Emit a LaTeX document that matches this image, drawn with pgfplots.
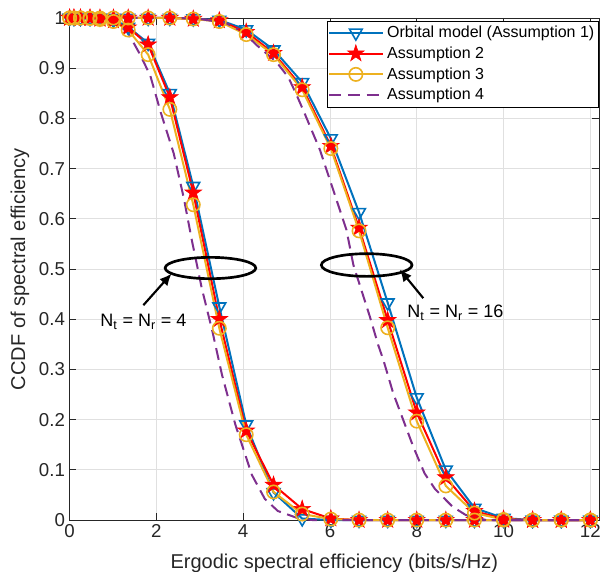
\documentclass[border=0pt]{standalone}
\usepackage{fontspec}
\setmainfont{Liberation Sans}
\usepackage{pgfplots}
\usepackage{pgfplotstable}
\pgfplotsset{compat=1.18}
\usetikzlibrary{arrows.meta}

\definecolor{orbblue}{HTML}{0072BD}
\definecolor{asred}{HTML}{FF0000}
\definecolor{asyellow}{HTML}{EDB120}
\definecolor{aspurple}{HTML}{7E2F8E}
\definecolor{axgray}{HTML}{262626}
\definecolor{gridgray}{HTML}{E0E0E0}

% filled five-pointed star (MATLAB pentagram)
\pgfdeclareplotmark{pentagram}{%
  \pgfpathmoveto{\pgfpointpolar{90}{\pgfplotmarksize}}%
  \pgfpathlineto{\pgfpointpolar{126}{0.382\pgfplotmarksize}}%
  \pgfpathlineto{\pgfpointpolar{162}{\pgfplotmarksize}}%
  \pgfpathlineto{\pgfpointpolar{198}{0.382\pgfplotmarksize}}%
  \pgfpathlineto{\pgfpointpolar{234}{\pgfplotmarksize}}%
  \pgfpathlineto{\pgfpointpolar{270}{0.382\pgfplotmarksize}}%
  \pgfpathlineto{\pgfpointpolar{306}{\pgfplotmarksize}}%
  \pgfpathlineto{\pgfpointpolar{342}{0.382\pgfplotmarksize}}%
  \pgfpathlineto{\pgfpointpolar{18}{\pgfplotmarksize}}%
  \pgfpathlineto{\pgfpointpolar{54}{0.382\pgfplotmarksize}}%
  \pgfpathclose
  \pgfusepathqfillstroke}

% marker curves: a = orbital model, b = assumption 2, c = assumption 3
\pgfplotstableread{
x     a4     b4     c4     a16    b16    c16
0     1      1      1      1      1      1
0.1   1      1      1      1      1      1
0.25  1      1      1      1      1      1
0.47  1      1      0.999  1      1      1
0.70  0.999  0.998  0.997  1      1      1
1.01  0.996  0.995  0.993  1      1      1
1.35  0.982  0.981  0.976  1      1      1
1.81  0.950  0.947  0.927  1      1      1
2.31  0.850  0.842  0.818  1      1      1
2.85  0.665  0.652  0.628  0.999  0.998  0.998
3.45  0.425  0.400  0.382  0.996  0.995  0.993
4.07  0.190  0.178  0.170  0.977  0.972  0.967
4.70  0.055  0.070  0.056  0.937  0.930  0.927
5.36  0.003  0.022  0.012  0.872  0.862  0.857
6.02  0      0.003  0.002  0.760  0.745  0.740
6.67  0      0      0      0.613  0.582  0.576
7.33  0      0      0      0.433  0.398  0.383
8.00  0      0      0      0.244  0.214  0.197
8.67  0      0      0      0.100  0.085  0.068
9.33  0      0      0      0.024  0.018  0.014
10.00 0      0      0      0.004  0.002  0.001
10.67 0      0      0      0      0      0
11.33 0      0      0      0      0      0
12.00 0      0      0      0      0      0
}\markdata

\begin{document}
\begin{tikzpicture}
\begin{axis}[
    name=ax,
    width=397pt, height=376.5pt, scale only axis,
    xmin=0, xmax=12.2, ymin=0, ymax=1,
    clip=false,
    xtick={0,2,4,6,8,10,12},
    ytick={0,0.1,0.2,0.3,0.4,0.5,0.6,0.7,0.8,0.9,1},
    yticklabels={0,0.1,0.2,0.3,0.4,0.5,0.6,0.7,0.8,0.9,1},
    xticklabels={0,2,4,6,8,10,12},
    tick align=inside, tick pos=both,
    major tick length=5pt,
    every tick/.style={axgray, line width=0.6pt},
    axis line style={axgray, line width=0.6pt},
    grid=major,
    grid style={gridgray, line width=0.7pt},
    tick label style={font=\fontsize{14}{16}\selectfont, text=axgray},
    /pgf/number format/assume math mode=true,
    xlabel={Ergodic spectral efficiency (bits/s/Hz)},
    ylabel={CCDF of spectral efficiency},
    every axis x label/.style={at={(axis description cs:0.5,-0.086)}, anchor=center,
        font=\fontsize{15}{17}\selectfont, text=axgray},
    every axis y label/.style={at={(axis description cs:-0.094,0.5)}, rotate=90, anchor=center,
        font=\fontsize{15}{17}\selectfont, text=axgray},
    legend style={at={(1,1)}, anchor=north east, yshift=-2pt, draw=black,
        line width=0.6pt, fill=white, font=\fontsize{12}{14}\selectfont,
        cells={anchor=west}, inner xsep=0.5pt, inner ysep=1pt,
        nodes={inner sep=2.7pt}},
    legend image code/.code={%
        \draw[mark repeat=2,mark phase=2,#1] plot coordinates {(0pt,0pt) (20pt,0pt) (40pt,0pt)};},
    orb/.style={orbblue, line width=1.5pt, mark=triangle, mark size=5.5pt,
        mark options={solid, rotate=180, line width=1.2pt}},
    as2/.style={asred, line width=1.5pt, mark=pentagram, mark size=6.5pt,
        mark options={solid, fill=asred, line width=0.5pt}},
    as3/.style={asyellow, line width=1.5pt, mark=o, mark size=5pt,
        mark options={solid, line width=1.2pt}},
    as4/.style={aspurple, line width=1.5pt, dash pattern=on 9pt off 5pt},
]
\addplot[orb, forget plot] table[x=x, y=a4] {\markdata};
\addplot[orb] table[x=x, y=a16] {\markdata};
\addlegendentry{Orbital model (Assumption 1)}
\addplot[as2, forget plot] table[x=x, y=b4] {\markdata};
\addplot[as2] table[x=x, y=b16] {\markdata};
\addlegendentry{Assumption 2}
\addplot[as3, forget plot] table[x=x, y=c4] {\markdata};
\addplot[as3] table[x=x, y=c16] {\markdata};
\addlegendentry{Assumption 3}
% Assumption 4, Nt = Nr = 4
\addplot[as4, forget plot] coordinates {
    (0,1) (0.5,1) (1.0,0.996) (1.35,0.97) (1.62,0.928) (1.86,0.885) (2.1,0.812)
    (2.4,0.73) (2.63,0.642) (2.82,0.556) (3.05,0.46) (3.28,0.38) (3.51,0.29)
    (3.82,0.19) (4.2,0.09) (4.5,0.042) (4.8,0.018) (5.25,0.004) (5.6,0) (12,0)
};
% Assumption 4, Nt = Nr = 16
\addplot[as4] coordinates {
    (0,1) (2.5,1) (3.0,0.998) (3.6,0.99) (4.0,0.972) (4.31,0.946) (4.77,0.912)
    (5.04,0.882) (5.23,0.847) (5.43,0.807) (5.77,0.737) (6.0,0.677) (6.38,0.578)
    (6.54,0.508) (6.92,0.405) (7.11,0.349) (7.23,0.319) (7.46,0.252) (7.69,0.199)
    (7.92,0.146) (8.18,0.093) (8.42,0.062) (8.82,0.027) (9.13,0.01) (9.6,0) (12,0)
};
\addlegendentry{Assumption 4}

% annotations
\draw[black, line width=2pt] (axis cs:3.246,0.502) ellipse [x radius=34pt, y radius=8pt];
\draw[black, line width=2pt] (axis cs:6.846,0.508) ellipse [x radius=34pt, y radius=8.5pt];
\draw[black, line width=1.6pt, -{Latex[length=9pt,width=8pt]}] (axis cs:1.70,0.428) -- (axis cs:2.35,0.491);
\draw[black, line width=1.6pt, -{Latex[length=9pt,width=8pt]}] (axis cs:8.15,0.442) -- (axis cs:7.61,0.499);
\node[anchor=base, font=\fontsize{13.5}{15}\selectfont] at (axis cs:1.70,0.386) {N\textsubscript{t} = N\textsubscript{r} = 4};
\node[anchor=base, font=\fontsize{13.5}{15}\selectfont] at (axis cs:8.89,0.404) {N\textsubscript{t} = N\textsubscript{r} = 16};
\end{axis}
\pgfresetboundingbox
\useasboundingbox (-52.2pt,-38.25pt) rectangle (399.25pt,390pt);
\end{tikzpicture}
\end{document}
